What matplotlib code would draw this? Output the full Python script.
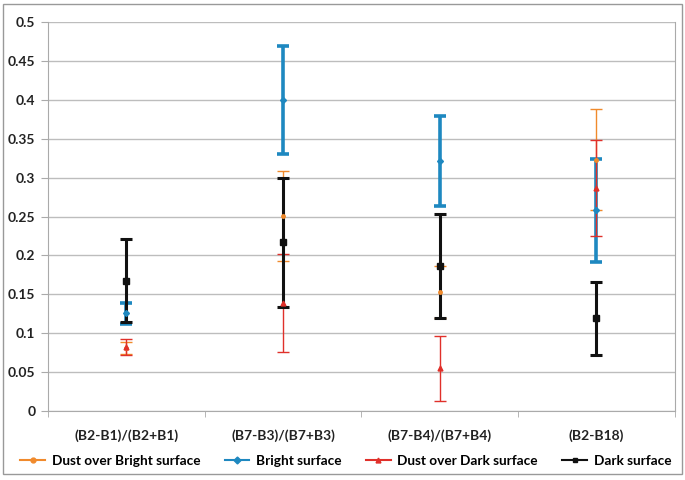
import matplotlib
matplotlib.use("Agg")
import matplotlib.pyplot as plt
from matplotlib.patches import Rectangle
import numpy as np

categories = ["(B2-B1)/(B2+B1)", "(B7-B3)/(B7+B3)", "(B7-B4)/(B7+B4)", "(B2-B18)"]

dust_bright = [0.081, 0.251, 0.153, 0.323]
dust_bright_err = [0.008, 0.058, 0.034, 0.065]
bright = [0.1255, 0.400, 0.321, 0.258]
bright_err = [0.0135, 0.069, 0.058, 0.066]
dust_dark = [0.0827, 0.139, 0.0548, 0.287]
dust_dark_err = [0.0105, 0.063, 0.042, 0.062]
dark = [0.1675, 0.217, 0.186, 0.119]
dark_err = [0.053, 0.083, 0.067, 0.047]

plt.rcParams['font.family'] = ['Lato', 'DejaVu Sans']

fig = plt.figure(figsize=(6.85, 4.8), dpi=100)
ax = fig.add_axes([0.070, 0.1437, 0.915, 0.8103])

x = np.arange(len(categories))

series = [
    (dust_bright, dust_bright_err, "#F08A2C", 1.0, "o", 2.5, "Dust over Bright surface"),
    (bright, bright_err, "#1E88C0", 2.6, "D", 3.0, "Bright surface"),
    (dust_dark, dust_dark_err, "#E0302A", 1.0, "^", 3.5, "Dust over Dark surface"),
    (dark, dark_err, "#111111", 2.2, "s", 4.0, "Dark surface"),
]
handles = []
for vals, errs, col, lw, mk, ms, lab in series:
    ax.errorbar(x, vals, yerr=errs, fmt=mk, color=col, ecolor=col, elinewidth=lw,
                capsize=4, capthick=lw, markersize=ms, zorder=3, label=lab)
    h, = ax.plot([], [], color=col, lw=1.5, marker=mk, markersize=3.5, label=lab)
    handles.append(h)

ax.set_xlim(-0.5, 3.5)
ax.set_ylim(0, 0.5)
ax.set_yticks(np.arange(0, 0.501, 0.05))
ax.set_yticklabels(["0", "0.05", "0.1", "0.15", "0.2", "0.25", "0.3", "0.35", "0.4", "0.45", "0.5"],
                   fontweight='bold')
ax.yaxis.grid(True, color="#BDBDBD", lw=1)
ax.set_axisbelow(True)
ax.tick_params(axis='y', length=5, color="#AAAAAA", labelsize=10, pad=4, labelcolor="#222222")
ax.set_xticks(x)
ax.set_xticklabels(categories, fontweight='bold', fontsize=10, color="#222222")
ax.tick_params(axis='x', length=0, pad=13)
ax.set_xticks(np.arange(-0.5, 3.6, 1), minor=True)
ax.tick_params(axis='x', which='minor', length=4, color="#AAAAAA")
ax.spines["top"].set_visible(False)
for s in ["left", "bottom", "right"]:
    ax.spines[s].set_color("#AAAAAA")

fig.legend(handles=handles, loc="lower left", ncol=4, frameon=False,
           bbox_to_anchor=(0.012, 0.002), handlelength=1.8, handletextpad=0.5,
           columnspacing=1.8, prop={'weight': 'bold', 'size': 9.8})

fig.patches.append(Rectangle((0.005, 0.012), 0.99, 0.98, transform=fig.transFigure,
                             fill=False, edgecolor="#999999", lw=1))

fig.savefig("out.png", dpi=100)
